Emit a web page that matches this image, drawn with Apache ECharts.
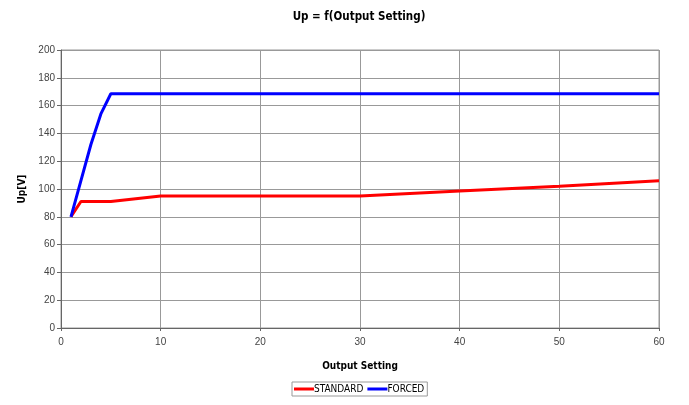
<!DOCTYPE html>
<html>
<head>
<meta charset="utf-8">
<script src="https://cdn.jsdelivr.net/npm/echarts@6/dist/echarts.min.js"></script>
<style>
  html, body { margin: 0; padding: 0; background: #fff; }
  #chart { width: 689px; height: 405px; }
</style>
</head>
<body>
<div id="chart"></div>
<script>
// Output setting vs. voltage Up for the two operating modes
const standardX = [1, 2, 5, 10, 20, 30, 40, 50, 60];
const standardY = [80, 91, 91, 95, 95, 95, 98.5, 102, 106];
const forcedX = [1, 2, 3, 4, 5, 60];
const forcedY = [80, 106, 132, 154, 168.5, 168.5];
const xTicks = [0, 10, 20, 30, 40, 50, 60];
const yTicks = [0, 20, 40, 60, 80, 100, 120, 140, 160, 180, 200];

const pairs = (xs, ys) => xs.map((x, i) => [x, ys[i]]);

const chart = echarts.init(document.getElementById('chart'));
const narrow = 'DejaVu Sans Condensed, sans-serif';
const labelFont = { fontFamily: 'Liberation Sans, Arial, sans-serif', fontSize: 10, color: '#444' };

chart.setOption({
  animation: false,
  title: {
    text: 'Up = f(Output Setting)',
    left: 354,
    textAlign: 'center',
    top: 6,
    textStyle: { fontFamily: narrow, fontWeight: 'bold', fontSize: 11.5, color: '#000' }
  },
  grid: { left: 61, right: 30, top: 50, bottom: 77, show: true, borderColor: '#999', borderWidth: 1 },
  xAxis: {
    type: 'value',
    min: xTicks[0],
    max: xTicks[xTicks.length - 1],
    interval: 10,
    name: 'Output Setting',
    nameLocation: 'middle',
    nameGap: 33,
    nameTextStyle: { fontFamily: narrow, fontWeight: 'bold', fontSize: 10, color: '#000' },
    axisLine: { lineStyle: { color: '#666', width: 1 } },
    axisTick: { show: true, length: 3, lineStyle: { color: '#666' } },
    axisLabel: Object.assign({ margin: 9 }, labelFont),
    splitLine: { show: true, lineStyle: { color: '#999', width: 1 } }
  },
  yAxis: {
    type: 'value',
    min: yTicks[0],
    max: yTicks[yTicks.length - 1],
    interval: 20,
    name: 'Up[V]',
    nameLocation: 'middle',
    nameGap: 31,
    nameRotate: 90,
    nameTextStyle: { fontFamily: narrow, fontWeight: 'bold', fontSize: 10, color: '#000' },
    axisLine: { show: true, lineStyle: { color: '#666', width: 1 } },
    axisTick: { show: true, length: 4, lineStyle: { color: '#666' } },
    axisLabel: Object.assign({ margin: 6 }, labelFont),
    splitLine: { show: true, lineStyle: { color: '#999', width: 1 } }
  },
  legend: {
    top: 382,
    left: 292,
    icon: 'rect',
    itemWidth: 20,
    itemHeight: 3,
    itemGap: 4,
    padding: [2, 3, 2, 2],
    borderColor: '#999',
    borderWidth: 1,
    textStyle: { fontFamily: narrow, fontSize: 10, color: '#000', padding: [0, 0, 0, -5] },
    data: ['STANDARD', 'FORCED']
  },
  series: [
    {
      name: 'STANDARD',
      type: 'line',
      data: pairs(standardX, standardY),
      showSymbol: false,
      lineStyle: { color: '#ff0000', width: 3 },
      itemStyle: { color: '#ff0000' }
    },
    {
      name: 'FORCED',
      type: 'line',
      data: pairs(forcedX, forcedY),
      showSymbol: false,
      lineStyle: { color: '#0000ff', width: 3 },
      itemStyle: { color: '#0000ff' }
    }
  ]
});
</script>
</body>
</html>
